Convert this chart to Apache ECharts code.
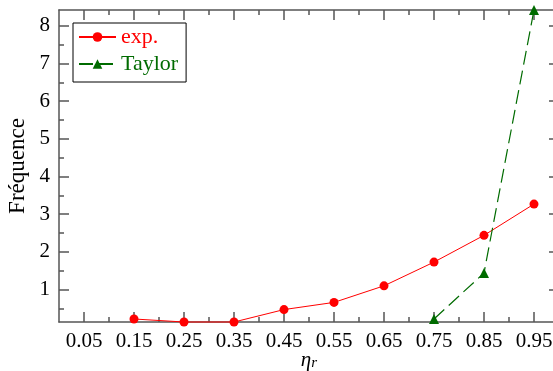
<!DOCTYPE html>
<html>
<head>
<meta charset="utf-8">
<script src="https://cdn.jsdelivr.net/npm/echarts@6/dist/echarts.min.js"></script>
<style>html,body{margin:0;padding:0;background:#fff;}#c{width:553px;height:371px;}</style>
</head>
<body>
<div id="c"></div>
<script>
const etaR = [0.15, 0.25, 0.35, 0.45, 0.55, 0.65, 0.75, 0.85, 0.95];
const expValues = [0.22, 0.14, 0.14, 0.47, 0.66, 1.10, 1.73, 2.44, 3.27];
const taylorEta = [0.75, 0.85, 0.95];
const taylorValues = [0.22, 1.44, 8.42];
const xTickLabels = [0.05, 0.15, 0.25, 0.35, 0.45, 0.55, 0.65, 0.75, 0.85, 0.95];
const xMinorTicks = [0.1, 0.2, 0.3, 0.4, 0.5, 0.6, 0.7, 0.8, 0.9];
const yTickLabels = [1, 2, 3, 4, 5, 6, 7, 8];
const yMinorTicks = [0.5, 1.5, 2.5, 3.5, 4.5, 5.5, 6.5, 7.5];
const xRange = [0, 1];
const yRange = [0.14, 8.42];

const FONT = "'Liberation Serif', 'DejaVu Serif', serif";
const AX = '#555';
const RED = '#ff0000';
const GREEN = '#006b00';

function xAx(pos, vals, len, showLine, labels, extra) {
  return Object.assign({
    type: 'value', position: pos, min: xRange[0], max: xRange[1],
    axisLine: {show: showLine, onZero: false, lineStyle: {color: AX, width: 1.5}},
    axisTick: {show: true, inside: true, length: len, customValues: vals, lineStyle: {color: AX, width: 1.5}},
    axisLabel: labels ? {show: true, customValues: vals, formatter: v => v.toFixed(2), color: '#000', fontFamily: FONT, fontSize: 21, margin: 9, hideOverlap: false} : {show: false},
    splitLine: {show: false}
  }, extra || {});
}
function yAx(pos, vals, len, showLine, labels, extra) {
  return Object.assign({
    type: 'value', position: pos, min: yRange[0], max: yRange[1],
    axisLine: {show: showLine, onZero: false, lineStyle: {color: AX, width: 1.5}},
    axisTick: {show: true, inside: true, length: len, customValues: vals, lineStyle: {color: AX, width: 1.5}},
    axisLabel: labels ? {show: true, customValues: vals, formatter: v => String(v), color: '#000', fontFamily: FONT, fontSize: 21, margin: 9, hideOverlap: false} : {show: false},
    splitLine: {show: false}
  }, extra || {});
}

const chart = echarts.init(document.getElementById('c'), null, {renderer: 'canvas'});
chart.setOption({
  animation: false,
  backgroundColor: '#fff',
  grid: {left: 59, top: 10, right: -6, bottom: 49, containLabel: false, outerBoundsMode: 'none'},
  legend: {
    left: 73, top: 23, orient: 'vertical',
    backgroundColor: '#fff', borderColor: '#000', borderWidth: 1,
    padding: [3, 8, 7, 5], itemWidth: 37, itemHeight: 12, itemGap: 5,
    textStyle: {fontFamily: FONT, fontSize: 22, lineHeight: 21},
    data: [
      {name: 'exp.', textStyle: {color: RED}},
      {name: 'Taylor', textStyle: {color: GREEN}}
    ]
  },
  xAxis: [
    xAx('bottom', xTickLabels, 10, true, true, {
      name: '{i|η}{s|r}', nameLocation: 'middle', nameGap: 27, nameMoveOverlap: false,
      nameTextStyle: {verticalAlign: 'top', rich: {
        i: {fontFamily: FONT, fontStyle: 'italic', fontSize: 21, color: '#000'},
        s: {fontFamily: FONT, fontStyle: 'italic', fontSize: 15, color: '#000', verticalAlign: 'bottom', padding: [7, 0, 0, 0]}
      }}
    }),
    xAx('bottom', xMinorTicks, 5, false, false),
    xAx('top', xTickLabels, 10, true, false),
    xAx('top', xMinorTicks, 5, false, false)
  ],
  yAxis: [
    yAx('left', yTickLabels, 10, true, true, {
      name: 'Fréquence', nameLocation: 'middle', nameGap: 30, nameRotate: 90, nameMoveOverlap: false,
      nameTextStyle: {fontFamily: FONT, fontSize: 23, color: '#000'}
    }),
    yAx('left', yMinorTicks, 5, false, false),
    yAx('right', yTickLabels, 10, true, false),
    yAx('right', yMinorTicks, 5, false, false)
  ],
  series: [
    {
      name: 'exp.', type: 'line', xAxisIndex: 0, yAxisIndex: 0,
      data: etaR.map((x, i) => [x, expValues[i]]),
      symbol: 'circle', symbolSize: 9,
      lineStyle: {color: RED, width: 1}, itemStyle: {color: RED},
      clip: false
    },
    {
      name: 'Taylor', type: 'line', xAxisIndex: 0, yAxisIndex: 0,
      data: taylorEta.map((x, i) => [x, taylorValues[i]]),
      symbol: 'triangle', symbolSize: 10,
      lineStyle: {color: GREEN, width: 1.2, type: [14, 6]}, itemStyle: {color: GREEN},
      clip: false
    }
  ]
});
</script>
</body>
</html>
